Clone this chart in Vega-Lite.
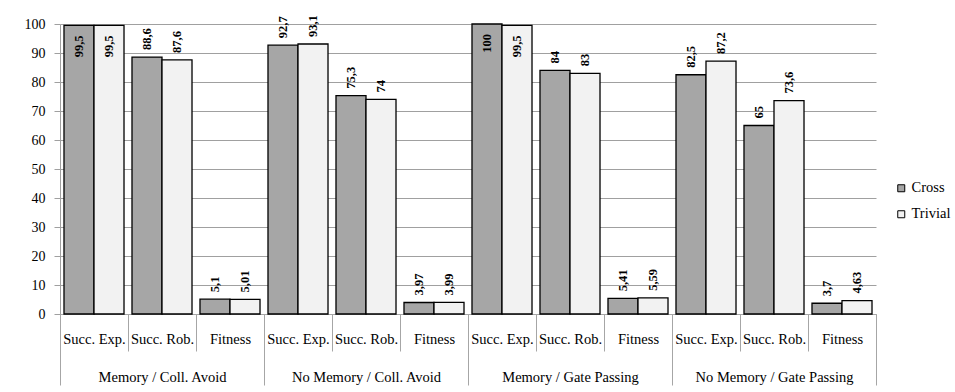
{
  "$schema": "https://vega.github.io/schema/vega-lite/v6.json",
  "width": 816,
  "height": 290,
  "autosize": "none",
  "padding": {"left": 60, "top": 24, "right": 79, "bottom": 78},
  "background": "white",
  "config": {
    "font": "'Liberation Serif', 'DejaVu Serif', serif",
    "view": {"stroke": null},
    "locale": {"number": {"decimal": ",", "thousands": ".", "grouping": [3], "currency": ["", " €"]}}
  },
  "data": {
    "values": [
      {"group": "Memory / Coll. Avoid", "metric": "Succ. Exp.", "series": "Cross", "value": 99.5},
      {"group": "Memory / Coll. Avoid", "metric": "Succ. Exp.", "series": "Trivial", "value": 99.5},
      {"group": "Memory / Coll. Avoid", "metric": "Succ. Rob.", "series": "Cross", "value": 88.6},
      {"group": "Memory / Coll. Avoid", "metric": "Succ. Rob.", "series": "Trivial", "value": 87.6},
      {"group": "Memory / Coll. Avoid", "metric": "Fitness", "series": "Cross", "value": 5.1},
      {"group": "Memory / Coll. Avoid", "metric": "Fitness", "series": "Trivial", "value": 5.01},
      {"group": "No Memory / Coll. Avoid", "metric": "Succ. Exp.", "series": "Cross", "value": 92.7},
      {"group": "No Memory / Coll. Avoid", "metric": "Succ. Exp.", "series": "Trivial", "value": 93.1},
      {"group": "No Memory / Coll. Avoid", "metric": "Succ. Rob.", "series": "Cross", "value": 75.3},
      {"group": "No Memory / Coll. Avoid", "metric": "Succ. Rob.", "series": "Trivial", "value": 74},
      {"group": "No Memory / Coll. Avoid", "metric": "Fitness", "series": "Cross", "value": 3.97},
      {"group": "No Memory / Coll. Avoid", "metric": "Fitness", "series": "Trivial", "value": 3.99},
      {"group": "Memory / Gate Passing", "metric": "Succ. Exp.", "series": "Cross", "value": 100},
      {"group": "Memory / Gate Passing", "metric": "Succ. Exp.", "series": "Trivial", "value": 99.5},
      {"group": "Memory / Gate Passing", "metric": "Succ. Rob.", "series": "Cross", "value": 84},
      {"group": "Memory / Gate Passing", "metric": "Succ. Rob.", "series": "Trivial", "value": 83},
      {"group": "Memory / Gate Passing", "metric": "Fitness", "series": "Cross", "value": 5.41},
      {"group": "Memory / Gate Passing", "metric": "Fitness", "series": "Trivial", "value": 5.59},
      {"group": "No Memory / Gate Passing", "metric": "Succ. Exp.", "series": "Cross", "value": 82.5},
      {"group": "No Memory / Gate Passing", "metric": "Succ. Exp.", "series": "Trivial", "value": 87.2},
      {"group": "No Memory / Gate Passing", "metric": "Succ. Rob.", "series": "Cross", "value": 65},
      {"group": "No Memory / Gate Passing", "metric": "Succ. Rob.", "series": "Trivial", "value": 73.6},
      {"group": "No Memory / Gate Passing", "metric": "Fitness", "series": "Cross", "value": 3.7},
      {"group": "No Memory / Gate Passing", "metric": "Fitness", "series": "Trivial", "value": 4.63}
    ]
  },
  "transform": [{"calculate": "datum.group + '|' + datum.metric", "as": "cat"}],
  "layer": [
    {
      "encoding": {
        "x": {
          "field": "cat", "type": "nominal", "sort": null,
          "scale": {"paddingInner": 0, "paddingOuter": 0},
          "axis": {
            "title": null, "labelExpr": "split(datum.label, '|')[1]", "labelAngle": 0,
            "tickBand": "extent", "tickSize": 37, "tickColor": "#a6a6a6", "domainColor": "#a6a6a6",
            "labelPadding": -12, "labelBaseline": "middle", "labelFontSize": 14.5, "labelColor": "black",
            "labelFont": "Liberation Serif"
          }
        },
        "xOffset": {"field": "series", "type": "nominal", "sort": ["Cross", "Trivial"], "scale": {"paddingInner": 0, "paddingOuter": 0.133}},
        "y": {
          "field": "value", "type": "quantitative",
          "scale": {"domain": [0, 100], "nice": false},
          "axis": {
            "title": null, "values": [0, 10, 20, 30, 40, 50, 60, 70, 80, 90, 100],
            "grid": true, "gridColor": "#a0a0a0", "domainColor": "#a0a0a0", "tickColor": "#a0a0a0",
            "tickSize": 6, "labelPadding": 9, "labelFontSize": 14, "labelColor": "black",
            "labelFont": "Liberation Serif"
          }
        }
      },
      "layer": [
        {
          "mark": {"type": "bar", "stroke": "black", "strokeWidth": 1.3},
          "encoding": {
            "fill": {
              "field": "series", "type": "nominal",
              "scale": {"domain": ["Cross", "Trivial"], "range": ["#a6a6a6", "#f2f2f2"]},
              "legend": {
                "title": null, "orient": "none", "legendX": 834, "legendY": 157, "padding": 0,
                "symbolType": "square", "symbolSize": 49, "symbolStrokeColor": "black", "symbolStrokeWidth": 1,
                "symbolOpacity": 1, "labelFontSize": 14.5, "labelFont": "Liberation Serif", "labelColor": "black",
                "labelOffset": 3, "rowPadding": 11
              }
            }
          }
        },
        {
          "transform": [{"filter": "datum.value < 99"}],
          "mark": {"type": "text", "angle": 270, "align": "left", "baseline": "middle", "dx": 7, "fontWeight": "bold", "fontSize": 12.5, "font": "Liberation Serif", "color": "black"},
          "encoding": {"text": {"field": "value", "type": "quantitative", "format": "~g"}}
        },
        {
          "transform": [{"filter": "datum.value >= 99"}],
          "mark": {"type": "text", "angle": 270, "align": "right", "baseline": "middle", "dx": -10, "fontWeight": "bold", "fontSize": 12.5, "font": "Liberation Serif", "color": "black"},
          "encoding": {"text": {"field": "value", "type": "quantitative", "format": "~g"}}
        }
      ]
    },
    {
      "mark": {"type": "tick", "opacity": 0},
      "encoding": {
        "x": {
          "field": "group", "type": "nominal", "sort": null,
          "scale": {"paddingInner": 0, "paddingOuter": 0},
          "axis": {
            "orient": "bottom", "title": null, "labelAngle": 0, "domain": false,
            "tickBand": "extent", "tickSize": 71, "tickColor": "#a6a6a6",
            "labelPadding": -8, "labelBaseline": "middle", "labelFontSize": 14.5, "labelColor": "black",
            "labelFont": "Liberation Serif"
          }
        }
      }
    }
  ],
  "resolve": {"scale": {"x": "independent"}}
}
